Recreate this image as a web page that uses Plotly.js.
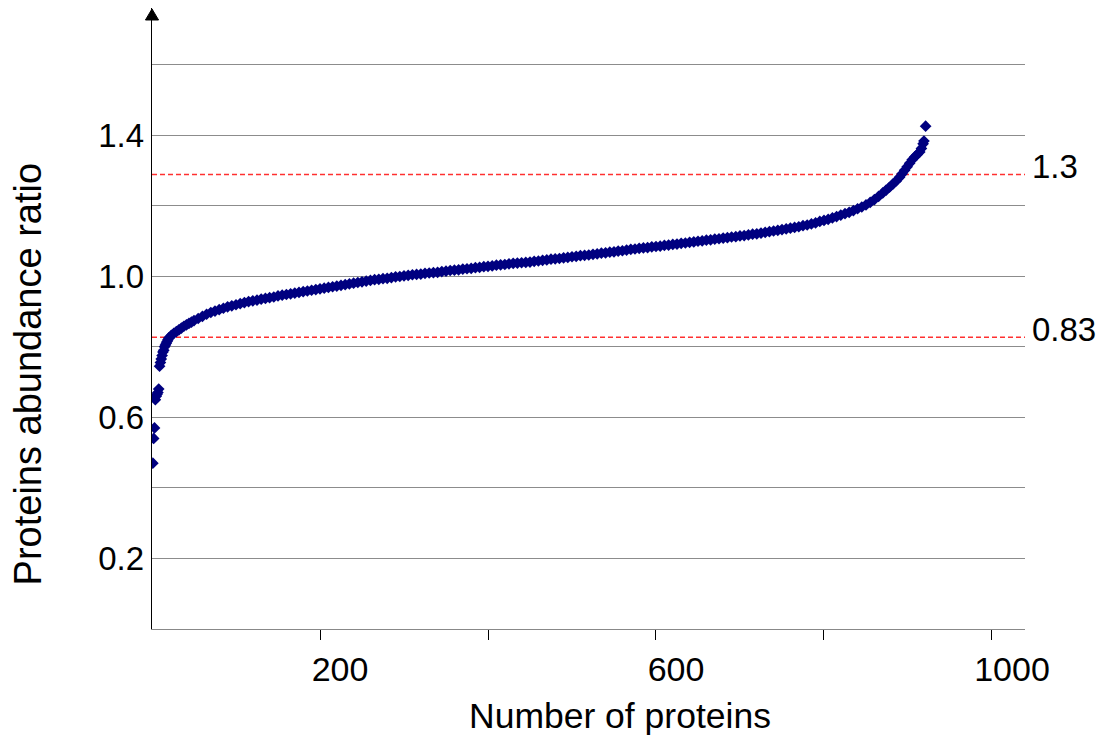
<!DOCTYPE html>
<html>
<head>
<meta charset="utf-8">
<script src="https://cdn.plot.ly/plotly-3.0.1.min.js"></script>
<style>
html,body{margin:0;padding:0;background:#fff;}
#chart{width:1111px;height:739px;}
</style>
</head>
<body>
<div id="chart"></div>
<script>
// Protein rank (sorted by ratio)
const proteinRank = [
  1,2,3,4,5,6,7,8,9,10,11,12,13,14,15,16,17,18,19,20,
  23,26,29,32,35,38,41,44,47,50,55,60,65,70,75,80,85,90,95,100,
  105,110,115,120,125,130,135,140,145,150,155,160,165,170,175,180,185,190,195,200,
  205,210,215,220,225,230,235,240,245,250,255,260,265,270,275,280,285,290,295,300,
  305,310,315,320,325,330,335,340,345,350,355,360,365,370,375,380,385,390,395,400,
  405,410,415,420,425,430,435,440,445,450,455,460,465,470,475,480,485,490,495,500,
  505,510,515,520,525,530,535,540,545,550,555,560,565,570,575,580,585,590,595,600,
  605,610,615,620,625,630,635,640,645,650,655,660,665,670,675,680,685,690,695,700,
  705,710,715,720,725,730,735,740,745,750,755,760,765,770,775,780,785,790,795,800,
  805,810,815,820,825,830,835,840,845,850,855,860,865,870,874,878,882,886,890,893,
  896,899,902,905,908,911,914,916,918,919,921
];
// Protein abundance ratio
const abundanceRatio = [
  0.47,0.54,0.57,0.65,0.66,0.665,0.67,0.68,0.745,0.755,0.765,0.775,0.785,0.79,0.80,0.805,0.81,0.815,0.82,0.825,
  0.832,0.838,0.843,0.848,0.853,0.858,0.862,0.866,0.870,0.874,0.880,0.886,0.892,0.897,0.901,0.905,0.909,0.913,0.916,0.919,
  0.922,0.925,0.928,0.930,0.932,0.935,0.937,0.939,0.941,0.944,0.946,0.948,0.950,0.952,0.954,0.956,0.958,0.960,0.962,0.964,
  0.966,0.968,0.970,0.972,0.974,0.976,0.978,0.980,0.982,0.984,0.986,0.988,0.990,0.991,0.993,0.994,0.996,0.998,0.999,1.001,
  1.002,1.004,1.005,1.006,1.008,1.009,1.010,1.011,1.013,1.014,1.016,1.017,1.018,1.020,1.021,1.022,1.024,1.025,1.027,1.028,
  1.029,1.031,1.032,1.033,1.035,1.036,1.037,1.038,1.039,1.040,1.042,1.043,1.045,1.046,1.048,1.049,1.050,1.052,1.053,1.055,
  1.056,1.058,1.059,1.060,1.062,1.063,1.065,1.066,1.068,1.069,1.071,1.072,1.074,1.076,1.077,1.079,1.080,1.081,1.083,1.084,
  1.085,1.087,1.088,1.090,1.091,1.093,1.094,1.096,1.097,1.099,1.100,1.102,1.103,1.105,1.106,1.108,1.109,1.111,1.112,1.114,
  1.115,1.117,1.119,1.120,1.122,1.124,1.126,1.128,1.130,1.132,1.134,1.136,1.138,1.140,1.143,1.145,1.148,1.151,1.155,1.158,
  1.161,1.165,1.169,1.173,1.177,1.181,1.186,1.191,1.196,1.202,1.209,1.217,1.226,1.236,1.244,1.252,1.261,1.270,1.280,1.290,
  1.300,1.310,1.320,1.330,1.338,1.345,1.352,1.362,1.375,1.383,1.425
];
const xTickVals = [200,400,600,800,1000];
const xTickText = ['200','','600','','1000'];
const yTickVals = [0.2,0.4,0.6,0.8,1.0,1.2,1.4,1.6];
const yTickText = ['0.2','','0.6','','1.0','','1.4',''];
const thresholds = [1.288, 0.827];
const thresholdLabels = ['1.3','0.83'];
const xTitle = 'Number of proteins';
const yTitle = 'Proteins abundance ratio';

const font = 'Liberation Sans, Arial, sans-serif';

const trace = {
  x: proteinRank,
  y: abundanceRatio,
  type: 'scatter',
  mode: 'markers',
  marker: {symbol: 'diamond', size: 9, color: '#000080', line: {width: 0}},
  hoverinfo: 'skip',
  showlegend: false
};

const shapes = thresholds.map(v => ({
  type: 'line', xref: 'paper', yref: 'y', x0: 0, x1: 1, y0: v, y1: v,
  line: {color: '#ff3030', width: 1.5, dash: '5px,3px'}, layer: 'below'
}));
// arrow head on the y axis
shapes.push({
  type: 'path', xref: 'paper', yref: 'paper',
  path: 'M -0.0075 0.9807 L 0 0.9985 L 0.0075 0.9807 Z',
  fillcolor: '#000', line: {color: '#000', width: 1}, layer: 'above'
});

const annotations = thresholds.map((v, i) => ({
  xref: 'paper', yref: 'y', x: 1, y: v, xanchor: 'left', yanchor: 'middle',
  xshift: 5, yshift: 8, text: thresholdLabels[i], showarrow: false,
  font: {family: font, size: 33, color: '#000'}
}));
annotations.push({
  xref: 'paper', yref: 'paper', x: 0.536, y: -0.14, xanchor: 'center', yanchor: 'middle',
  text: xTitle, showarrow: false, font: {family: font, size: 35.5, color: '#000'}
});
annotations.push({
  xref: 'paper', yref: 'paper', x: -0.142, y: 0.41, xanchor: 'center', yanchor: 'middle',
  textangle: -90, text: yTitle, showarrow: false, font: {family: font, size: 38, color: '#000'}
});

const layout = {
  width: 1111, height: 739,
  margin: {l: 152, r: 86, t: 8, b: 110, pad: 0},
  paper_bgcolor: '#fff', plot_bgcolor: '#fff',
  font: {family: font, color: '#000'},
  xaxis: {
    range: [0, 1039.3], showline: true, linecolor: '#888', linewidth: 1,
    ticks: 'outside', ticklen: 10, tickcolor: '#000', tickwidth: 1,
    tickmode: 'array', tickvals: xTickVals, ticktext: xTickText, ticklabelshift: 20,
    showgrid: false, zeroline: false,
    tickfont: {family: font, size: 34, color: '#000'}
  },
  yaxis: {
    range: [0, 1.76], showline: true, linecolor: '#000', linewidth: 1.3,
    ticks: '', tickmode: 'array', tickvals: yTickVals, ticktext: yTickText,
    showgrid: true, gridcolor: '#8c8c8c', gridwidth: 1, zeroline: false,
    tickfont: {family: font, size: 33, color: '#000'}
  },
  shapes: shapes,
  annotations: annotations
};

Plotly.newPlot('chart', [trace], layout, {displayModeBar: false, staticPlot: true});
</script>
</body>
</html>
